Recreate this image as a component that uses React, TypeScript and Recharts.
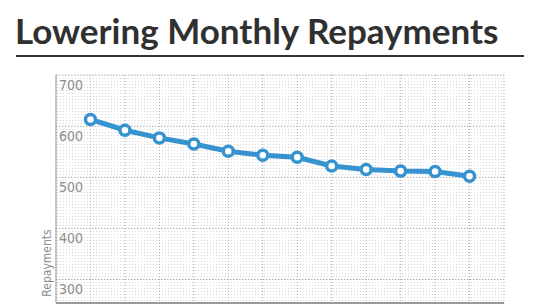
import React from 'react';
import { LineChart, Line, XAxis, YAxis, CartesianGrid } from 'recharts';

const periods = [1, 2, 3, 4, 5, 6, 7, 8, 9, 10, 11, 12];
const repayments = [613, 592, 577, 565, 551, 543, 539, 522, 515, 512, 511, 502];
const yTicks = [300, 400, 500, 600, 700];
const xTicks = [0, 1, 2, 3, 4, 5, 6, 7, 8, 9, 10, 11, 12, 13];
const title = 'Lowering Monthly Repayments';
const yLabel = 'Repayments';

const data = periods.map((p, i) => ({ period: p, value: repayments[i] }));

const BLUE = '#3693d0';
const NARROW = "'Liberation Sans Narrow', 'DejaVu Sans Condensed', sans-serif";

const YTick = (props: any) => {
  const { x, y, payload } = props;
  return (
    <text x={x + 3} y={y + 15} textAnchor="start" fill="#8d8d8d" fontSize={14} fontFamily={NARROW}>
      {payload.value}
    </text>
  );
};

const EmptyTick = () => <g />;

const YLabel = (props: any) => {
  const vb = props.viewBox || {};
  const cx = vb.x + vb.width - 9;
  const cy = vb.y + vb.height - 40;
  return (
    <text
      x={cx}
      y={cy}
      transform={`rotate(-90 ${cx} ${cy})`}
      textAnchor="middle"
      dominantBaseline="central"
      fill="#8d8d8d"
      fontSize={12}
      fontFamily={NARROW}
    >
      {yLabel}
    </text>
  );
};

export default function App() {
  return (
    <div style={{ position: 'absolute', left: 0, top: 0, width: 533, height: 306, background: '#fff', overflow: 'hidden' }}>
      <svg width={0} height={0} style={{ position: 'absolute' }}>
        <defs>
          <pattern id="dotgrid" width={3} height={3} patternUnits="userSpaceOnUse">
            <rect x={0} y={0} width={3} height={3} fill="#ffffff" />
            <rect x={0} y={0} width={1} height={1} fill="#d9d9d9" />
          </pattern>
        </defs>
      </svg>
      <div
        style={{
          position: 'absolute',
          left: 15,
          top: 9,
          fontFamily: 'Lato, sans-serif',
          fontWeight: 700,
          fontSize: 35,
          color: '#303030',
          lineHeight: '43px',
          whiteSpace: 'nowrap',
        }}
      >
        {title}
      </div>
      <div style={{ position: 'absolute', left: 16, top: 55, width: 508, height: 2, background: '#333' }} />
      <div style={{ position: 'absolute', left: 0, top: 0 }}>
        <LineChart width={533} height={306} data={data} margin={{ top: 75, left: 0, right: 29, bottom: 0 }}>
          <CartesianGrid stroke="#a8a8a8" strokeDasharray="1 2" fill="url(#dotgrid)" />
          <XAxis
            type="number"
            dataKey="period"
            domain={[0, 13]}
            ticks={xTicks}
            interval={0}
            tick={<EmptyTick />}
            tickLine={false}
            height={3}
            axisLine={{ stroke: '#9a9a9a', strokeWidth: 2 }}
          />
          <YAxis
            type="number"
            domain={[254, 700]}
            ticks={yTicks}
            interval={0}
            width={56}
            tickSize={0}
            tickMargin={0}
            tickLine={false}
            tick={<YTick />}
            axisLine={{ stroke: '#9a9a9a', strokeWidth: 1 }}
            allowDataOverflow
            label={{ content: <YLabel /> }}
          />
          <Line
            type="linear"
            dataKey="value"
            stroke={BLUE}
            strokeWidth={5}
            dot={{ r: 5, fill: '#fff', stroke: BLUE, strokeWidth: 3.5 }}
            isAnimationActive={false}
          />
        </LineChart>
      </div>
    </div>
  );
}
